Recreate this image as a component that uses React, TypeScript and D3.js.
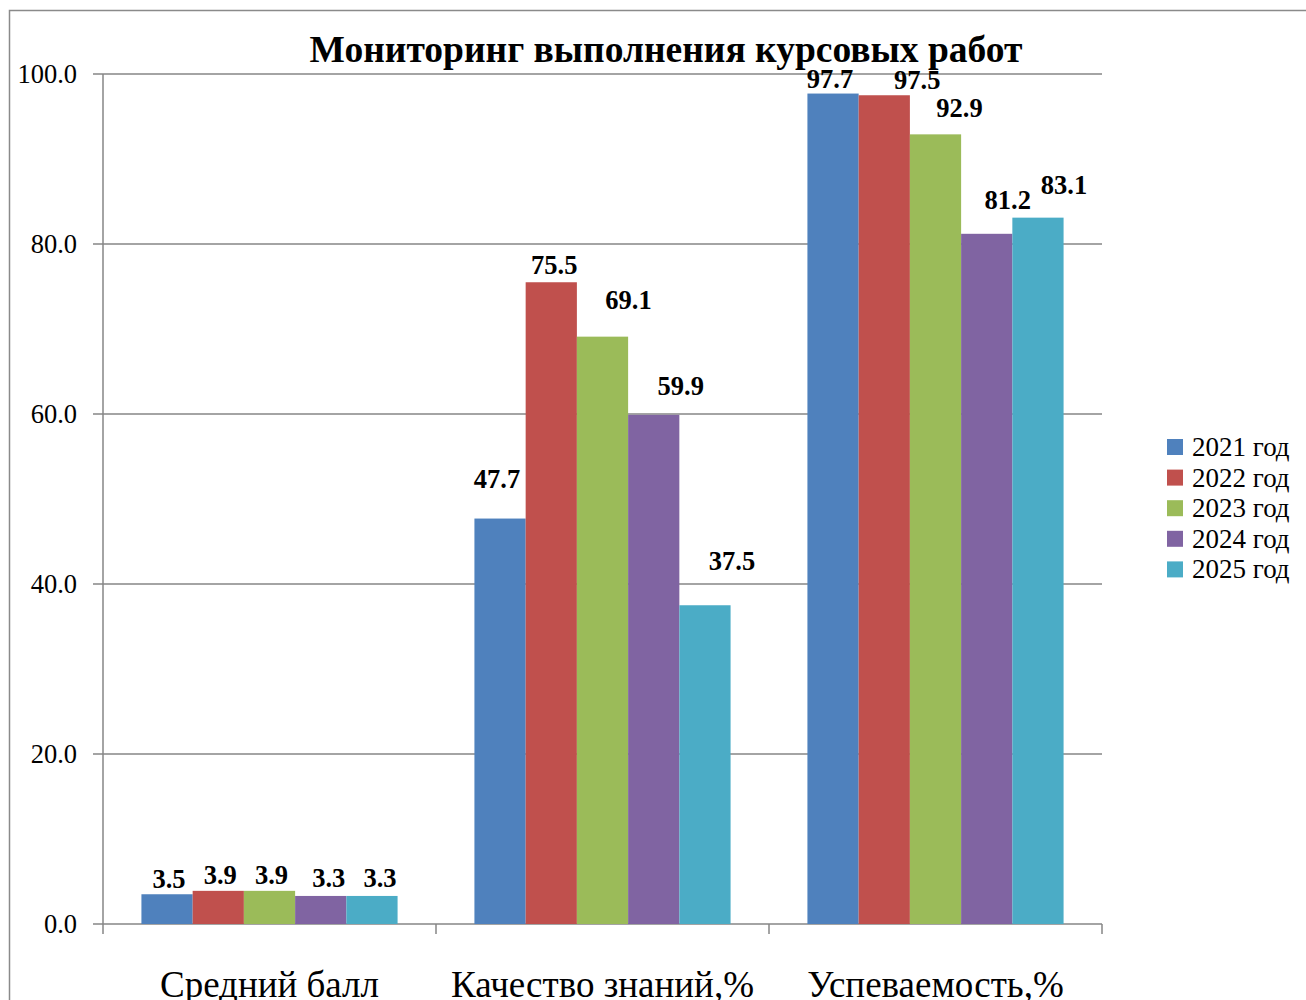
import React, { useEffect, useRef } from 'react';
import * as d3 from 'd3';

const categories = ['Средний балл', 'Качество знаний,%', 'Успеваемость,%'];
const years = ['2021 год', '2022 год', '2023 год', '2024 год', '2025 год'];
// values[year][category]
const values = [
  [3.5, 47.7, 97.7],
  [3.9, 75.5, 97.5],
  [3.9, 69.1, 92.9],
  [3.3, 59.9, 81.2],
  [3.3, 37.5, 83.1],
];
const colors = ['#4F81BD', '#C0504D', '#9BBB59', '#8064A2', '#4BACC6'];
const yTicks = [0, 20, 40, 60, 80, 100];

// manual label nudges (px) the way they sit in the original, [year][category]
const labelShift: [number, number][][] = [
  [[2, -6], [-3, -31], [-3, -6]],
  [[2, -7], [3, -8], [33, -6]],
  [[2, -7], [26, -28], [24, -17]],
  [[8, -9], [27, -20], [21, -25]],
  [[8, -9], [27, -35], [26, -24]],
];

const W = 1306;
const H = 1000;
const FONT = '"Liberation Serif", "Times New Roman", serif';

export default function App() {
  const ref = useRef<SVGSVGElement>(null);

  useEffect(() => {
    if (!ref.current) return;
    const svg = d3.select(ref.current);
    svg.selectAll('*').remove();

    const margin = { top: 74, right: 204, bottom: 76, left: 103 };
    const x0 = d3.scaleBand().domain(categories).range([margin.left, W - margin.right]).paddingInner(0).paddingOuter(0);
    const bw = x0.bandwidth() / 6.5;
    const x1 = d3.scaleBand().domain(years).range([0.75 * bw, x0.bandwidth() - 0.75 * bw]).padding(0);
    const y = d3.scaleLinear().domain([0, 100]).range([H - margin.bottom, margin.top]);

    // outer frame
    svg.append('rect')
      .attr('x', 9.5).attr('y', 10.5)
      .attr('width', W + 20).attr('height', H + 20)
      .attr('fill', 'none').attr('stroke', '#8a8a8a').attr('stroke-width', 1.5);

    // gridlines + y ticks
    const grid = svg.append('g');
    yTicks.forEach(t => {
      grid.append('line')
        .attr('x1', margin.left - 10).attr('x2', W - margin.right)
        .attr('y1', y(t)).attr('y2', y(t))
        .attr('stroke', '#868686').attr('stroke-width', 1.5);
      grid.append('text')
        .attr('x', margin.left - 26).attr('y', y(t) + 9)
        .attr('text-anchor', 'end')
        .style('font-family', FONT).style('font-size', '26.5px')
        .text(t.toFixed(1));
    });

    // y axis line
    svg.append('line')
      .attr('x1', margin.left).attr('x2', margin.left)
      .attr('y1', y(100)).attr('y2', y(0))
      .attr('stroke', '#868686').attr('stroke-width', 1.5);

    // x category ticks
    const edges = categories.map(c => x0(c) as number).concat([W - margin.right]);
    edges.forEach(e => {
      svg.append('line')
        .attr('x1', e).attr('x2', e)
        .attr('y1', y(0)).attr('y2', y(0) + 10)
        .attr('stroke', '#868686').attr('stroke-width', 1.5);
    });

    // bars
    years.forEach((yr, i) => {
      categories.forEach((c, j) => {
        const v = values[i][j];
        const bx = (x0(c) as number) + (x1(yr) as number);
        svg.append('rect')
          .attr('x', bx).attr('y', y(v))
          .attr('width', x1.bandwidth()).attr('height', y(0) - y(v))
          .attr('fill', colors[i]);
      });
    });

    // data labels
    years.forEach((yr, i) => {
      categories.forEach((c, j) => {
        const v = values[i][j];
        const cx = (x0(c) as number) + (x1(yr) as number) + x1.bandwidth() / 2;
        const [dx, dy] = labelShift[i][j];
        svg.append('text')
          .attr('x', cx + dx).attr('y', y(v) + dy)
          .attr('text-anchor', 'middle')
          .style('font-family', FONT).style('font-size', '26.5px').style('font-weight', 'bold')
          .text(v.toFixed(1));
      });
    });

    // category labels
    categories.forEach(c => {
      svg.append('text')
        .attr('x', (x0(c) as number) + x0.bandwidth() / 2).attr('y', 997)
        .attr('text-anchor', 'middle')
        .style('font-family', FONT).style('font-size', '37px')
        .text(c);
    });

    // title
    svg.append('text')
      .attr('x', 666).attr('y', 62)
      .attr('text-anchor', 'middle')
      .style('font-family', FONT).style('font-size', '37.5px').style('font-weight', 'bold')
      .text('Мониторинг выполнения курсовых работ');

    // legend
    const lg = svg.append('g').attr('transform', 'translate(1167, 447)');
    years.forEach((yr, i) => {
      lg.append('rect')
        .attr('x', 0).attr('y', i * 30.6 - 8)
        .attr('width', 16).attr('height', 16)
        .attr('fill', colors[i]);
      lg.append('text')
        .attr('x', 25).attr('y', i * 30.6 + 9)
        .style('font-family', FONT).style('font-size', '27px')
        .text(yr);
    });
  }, []);

  return (
    <svg ref={ref} width={W} height={H} style={{ position: 'absolute', left: 0, top: 0, background: '#fff' }} />
  );
}
